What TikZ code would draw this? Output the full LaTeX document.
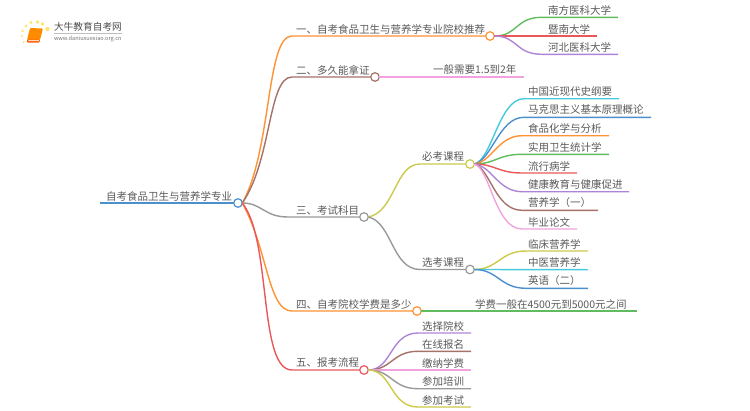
\documentclass[tikz,border=0pt]{standalone}
\usepackage{fontspec}
\setmainfont{Noto Sans CJK SC}
\definecolor{cOrange}{HTML}{FF9233}
\definecolor{cBrown}{HTML}{A5716A}
\definecolor{cGrey}{HTML}{999999}
\definecolor{cRed}{HTML}{E9575A}
\definecolor{cGreen}{HTML}{62BC5E}
\definecolor{cPurple}{HTML}{AE85D6}
\definecolor{cPink}{HTML}{F0A3DC}
\definecolor{cOlive}{HTML}{CDC94A}
\definecolor{cCyan}{HTML}{45CBDD}
\definecolor{cBlue}{HTML}{4A90CF}
\definecolor{cText}{HTML}{5A5A5A}
\begin{document}
\begin{tikzpicture}[x=1pt,y=-1pt,inner sep=0pt,outer sep=0pt,line width=1.4pt,
lab/.style={anchor=west,text=cText,font=\fontsize{10.5pt}{12pt}\selectfont},
hub/.style={draw,circle,fill=white,minimum size=8.6pt,line width=1.2pt}]
\useasboundingbox (0,0) rectangle (750,410);

% logo
\fill[yellow!70!orange,opacity=.6] (47.5,29) circle (2.2) (42.5,24) circle (1.9) (37.5,22) circle (1.9) (31,22.5) circle (1.7) (26,26) circle (1.5) (22.5,31) circle (1.3) (22,36) circle (1.1) (23.5,42) circle (1);
\fill[orange!90!yellow,rounded corners=1pt] (30,28) -- (43,28.5) -- (40,40) -- (27,40) -- cycle;
\fill[orange!70!red,rounded corners=.8pt] (27,39.5) -- (40,39.5) -- (39.5,42.5) -- (27,42.5) -- cycle;
\fill[orange!25] (28.5,40.2) -- (39,40.2) -- (38.8,41.2) -- (28.3,41.2) -- cycle;
\draw (54,27) node[lab,text=black!70,font=\fontsize{9.7pt}{10pt}\selectfont] (logoname) {大牛教育自考网};
\draw (54,39) node[lab,text=black!55,font=\fontsize{5.6pt}{6pt}\selectfont] (logourl) {www.daniuxuexiao.org.cn};
\draw[black!25,line width=.5pt] (logoname.south west) ++(0,1.5) -- ++(68,0);

% hubs
\draw (238,203) node[hub,draw=cBlue] (root) {};
\draw (490,36) node[hub,draw=cOrange] (one) {};
\draw (375,77) node[hub,draw=cBrown] (two) {};
\draw (364,217) node[hub,draw=cGrey] (three) {};
\draw (417,311) node[hub,draw=cOrange] (four) {};
\draw (364,370) node[hub,draw=cRed] (five) {};
\draw (470,164) node[hub,draw=cOlive] (must) {};
\draw (470,269.5) node[hub,draw=cGrey] (opt) {};

% line ends
\coordinate (rootend) at (100,203);
\coordinate (twoend) at (524,77);
\coordinate (fourend) at (637,311);
\coordinate (a1) at (618,17.3);
\coordinate (a2) at (597,36);
\coordinate (a3) at (618,54.3);
\coordinate (b1) at (619,98.7);
\coordinate (b2) at (651,117.3);
\coordinate (b3) at (609,135.7);
\coordinate (b4) at (609,154.3);
\coordinate (b5) at (577,173);
\coordinate (b6) at (629,191.7);
\coordinate (b7) at (598,210.3);
\coordinate (b8) at (577,229);
\coordinate (c1) at (588,251);
\coordinate (c2) at (588,269.7);
\coordinate (c3) at (588,288.3);
\coordinate (d1) at (471,333);
\coordinate (d2) at (471,351.3);
\coordinate (d3) at (471,370);
\coordinate (d4) at (471,388.7);
\coordinate (d5) at (471,407);

% main branches
\draw[cBlue,line width=1.8pt] (rootend) -- (root.west);
\draw[cOrange] (root.east) .. controls (272,150) and (266,36) .. (292,36) -- (one.west);
\draw[cBrown] (root.east) .. controls (272,160) and (268,77) .. (292,77) -- (two.west);
\draw[cGrey] (root.east) .. controls (262,203) and (264,217) .. (288,217) -- (three.west);
\draw[cOrange] (root.east) .. controls (268,250) and (268,311) .. (292,311) -- (four.west);
\draw[cRed] (root.east) .. controls (272,240) and (258,370) .. (292,370) -- (five.west);
\draw[cPink] (two.east) -- (twoend);
\draw[cGreen] (four.east) -- (fourend);
\draw[cOlive] (three.east) .. controls (395,212) and (395,164) .. (420,164) -- (must.west);
\draw[cGrey] (three.east) .. controls (392,222) and (392,269.5) .. (420,269.5) -- (opt.west);

% leaves
\draw[cGreen] (one.east) .. controls (518,36) and (515,17.3) .. (542,17.3) -- (a1);
\draw[cRed] (one.east) -- (a2);
\draw[cPurple] (one.east) .. controls (518,36) and (515,54.3) .. (542,54.3) -- (a3);
\draw[cCyan] (must.east) .. controls (492,160) and (499,98.7) .. (524,98.7) -- (b1);
\draw[cBlue] (must.east) .. controls (492,160) and (499,117.3) .. (524,117.3) -- (b2);
\draw[cOrange] (must.east) .. controls (492,162) and (498,135.7) .. (522,135.7) -- (b3);
\draw[cGreen] (must.east) .. controls (495,164) and (498,154.3) .. (522,154.3) -- (b4);
\draw[cRed] (must.east) .. controls (495,164) and (498,173) .. (522,173) -- (b5);
\draw[cPurple] (must.east) .. controls (492,166) and (498,191.7) .. (522,191.7) -- (b6);
\draw[cBrown] (must.east) .. controls (490,168) and (495,210.3) .. (522,210.3) -- (b7);
\draw[cPink] (must.east) .. controls (490,168) and (495,229) .. (522,229) -- (b8);
\draw[cOlive] (opt.east) .. controls (498,269.5) and (500,251) .. (526,251) -- (c1);
\draw[cCyan] (opt.east) -- (c2);
\draw[cBlue] (opt.east) .. controls (498,269.5) and (500,288.3) .. (526,288.3) -- (c3);
\draw[cPurple] (five.east) .. controls (392,370) and (390,333) .. (418,333) -- (d1);
\draw[cBrown] (five.east) .. controls (392,370) and (392,351.3) .. (418,351.3) -- (d2);
\draw[cPink] (five.east) -- (d3);
\draw[cGrey] (five.east) .. controls (392,370) and (392,388.7) .. (418,388.7) -- (d4);
\draw[cOlive] (five.east) .. controls (392,370) and (390,407) .. (418,407) -- (d5);

% texts
\draw (106,196) node[lab] (roottext) {自考食品卫生与营养学专业};
\draw (296,29) node[lab] (onetext) {一、自考食品卫生与营养学专业院校推荐};
\draw (296,70) node[lab] (twotext) {二、多久能拿证};
\draw (296,210) node[lab] (threetext) {三、考试科目};
\draw (296,304) node[lab] (fourtext) {四、自考院校学费是多少};
\draw (296,363) node[lab] (fivetext) {五、报考流程};
\draw (433,70) node[lab] (twoleaf) {一般需要1.5到2年};
\draw (475,304) node[lab] (fourleaf) {学费一般在4500元到5000元之间};
\draw (422,157) node[lab] (musttext) {必考课程};
\draw (422,262.5) node[lab] (opttext) {选考课程};
\draw (548,10) node[lab] (a1text) {南方医科大学};
\draw (548,29) node[lab] (a2text) {暨南大学};
\draw (548,47) node[lab] (a3text) {河北医科大学};
\draw (528,91.5) node[lab] (b1text) {中国近现代史纲要};
\draw (528,110) node[lab] (b2text) {马克思主义基本原理概论};
\draw (528,128.5) node[lab] (b3text) {食品化学与分析};
\draw (528,147) node[lab] (b4text) {实用卫生统计学};
\draw (528,166) node[lab] (b5text) {流行病学};
\draw (528,184.5) node[lab] (b6text) {健康教育与健康促进};
\draw (528,203) node[lab] (b7text) {营养学（一）};
\draw (528,222) node[lab] (b8text) {毕业论文};
\draw (528,244) node[lab] (c1text) {临床营养学};
\draw (528,262.5) node[lab] (c2text) {中医营养学};
\draw (528,281) node[lab] (c3text) {英语（二）};
\draw (422,326) node[lab] (d1text) {选择院校};
\draw (422,344) node[lab] (d2text) {在线报名};
\draw (422,363) node[lab] (d3text) {缴纳学费};
\draw (422,381.5) node[lab] (d4text) {参加培训};
\draw (422,400) node[lab] (d5text) {参加考试};

\end{tikzpicture}
\end{document}
